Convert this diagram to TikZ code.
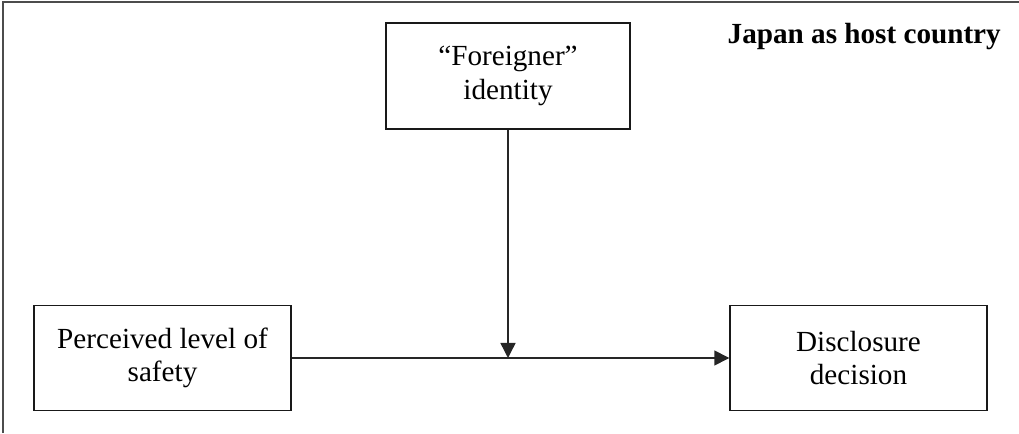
\documentclass[tikz,border=0pt]{standalone}
\usepackage{fontspec}
\setmainfont{Liberation Serif}
\usetikzlibrary{arrows.meta}

\begin{document}
\begin{tikzpicture}[
    every node/.style={font=\fontsize{16.6}{19}\selectfont},
    varbox/.style={draw, line width=0.8pt, color=black!90, text=black,
      align=center, inner sep=0, minimum width=5.14cm, minimum height=2.1cm},
    link/.style={-{Triangle[length=0.3cm, width=0.3cm]}, line width=0.8pt,
      color=black!85}]
    \useasboundingbox (0,0) rectangle (20.38,8.66);
    % frame (right and bottom sides fall outside the page)
    \draw[line width=1pt, color=black!70] (0.06,0) -- (0.06,8.62) -- (20.38,8.62);
    \node[font=\bfseries\fontsize{16.6}{19}\selectfont, anchor=base east]
      (host) at (20.14,7.78) {Japan as host country};
    \node[varbox, minimum width=4.88cm, minimum height=2.12cm]
      (fid) at (10.16,7.14) {“Foreigner”\\identity};
    \node[varbox] (safe) at (3.25,1.5) {Perceived level of\\safety};
    \node[varbox] (disc) at (17.17,1.5) {Disclosure\\decision};
    \coordinate (meet) at (fid.south |- safe.east);
    \draw[link] (safe.east) -- (disc.west);
    \draw[link] (fid.south) -- (meet);
  \end{tikzpicture}
\end{document}
